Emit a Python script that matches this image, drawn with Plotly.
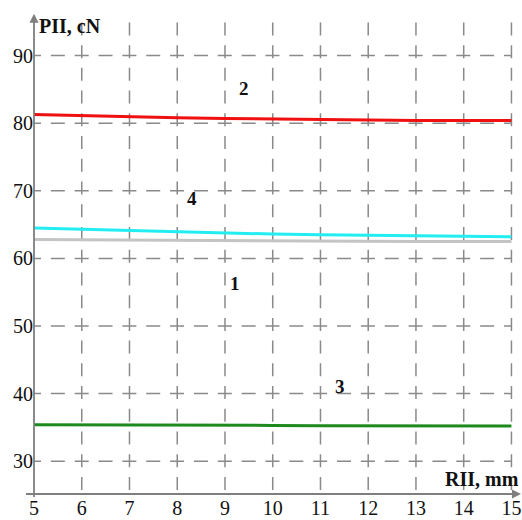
import plotly.graph_objects as go

x_vals = [5, 6, 7, 8, 9, 10, 11, 12, 13, 14, 15]
curve1 = [62.8, 62.75, 62.7, 62.65, 62.6, 62.6, 62.55, 62.55, 62.5, 62.5, 62.5]   # gray
curve2 = [81.3, 81.1, 80.95, 80.8, 80.7, 80.6, 80.5, 80.45, 80.4, 80.4, 80.4]     # red
curve3 = [35.4, 35.4, 35.4, 35.35, 35.3, 35.3, 35.25, 35.25, 35.2, 35.2, 35.2]    # green
curve4 = [64.5, 64.3, 64.1, 63.9, 63.8, 63.6, 63.5, 63.4, 63.3, 63.3, 63.2]       # cyan

x_ticks = [5, 6, 7, 8, 9, 10, 11, 12, 13, 14, 15]
y_ticks = [30, 40, 50, 60, 70, 80, 90]

label_text = ["1", "2", "3", "4"]
label_x = [9.2, 9.4, 11.4, 8.3]
label_y = [56.3, 85.1, 41.0, 68.8]

FONT = "Liberation Serif"
GRID_COLOR = "#8a8a8a"

fig = go.Figure()

# dashed grid; dash pattern phased so dashes cross at the grid intersections
for xv in x_ticks[1:]:
    fig.add_shape(type="line", xref="x", yref="y", x0=xv, x1=xv, y0=22.38, y1=95.0,
                  line=dict(color=GRID_COLOR, width=1.5, dash="13px,9.73px"),
                  layer="below")
for yv in y_ticks:
    fig.add_shape(type="line", xref="x", yref="y", x0=4.853, x1=x_ticks[-1],
                  y0=yv, y1=yv,
                  line=dict(color=GRID_COLOR, width=1.5, dash="14px,9.85px"),
                  layer="below")

series = [
    (curve1, "#c4c4c4"),
    (curve4, "#22eef2"),
    (curve2, "#f01010"),
    (curve3, "#1e8a1e"),
]
for ys, col in series:
    fig.add_trace(go.Scatter(x=x_vals, y=ys, mode="lines",
                             line=dict(color=col, width=3), showlegend=False,
                             hoverinfo="skip"))

for t, lx, ly in zip(label_text, label_x, label_y):
    fig.add_annotation(x=lx, y=ly, text="<b>%s</b>" % t, showarrow=False,
                       font=dict(family=FONT, size=19, color="#111"))

# axes with arrows
fig.add_annotation(x=15.2, y=25.15, ax=4.8, ay=25.15, xref="x", yref="y",
                   axref="x", ayref="y", text="", showarrow=True,
                   arrowhead=2, arrowsize=1, arrowwidth=1.8, arrowcolor="#7f7f7f")
fig.add_annotation(x=5, y=96.2, ax=5, ay=24.5, xref="x", yref="y",
                   axref="x", ayref="y", text="", showarrow=True,
                   arrowhead=2, arrowsize=1, arrowwidth=1.8, arrowcolor="#7f7f7f")

fig.add_annotation(x=0.006, y=1.0, xref="paper", yref="paper", text="<b>PII, cN</b>",
                   showarrow=False, xanchor="left", yanchor="top",
                   font=dict(family=FONT, size=20, color="#111"))
fig.add_annotation(x=1.0, y=0.004, xref="paper", yref="paper", text="<b>RII, mm</b>",
                   showarrow=False, xanchor="right", yanchor="bottom",
                   font=dict(family=FONT, size=20, color="#111"))

fig.update_xaxes(range=[5, 15.2], tickvals=x_ticks, ticks="", showline=False,
                 zeroline=False, showgrid=False,
                 tickfont=dict(family=FONT, size=20, color="#111"))
fig.update_yaxes(range=[25.15, 96.3], tickvals=y_ticks, ticks="", showline=False,
                 zeroline=False, showgrid=False,
                 tickfont=dict(family=FONT, size=20, color="#111"))

fig.update_layout(width=522, height=520,
                  margin=dict(l=34, r=1, t=13, b=24),
                  plot_bgcolor="white", paper_bgcolor="white")

fig.write_html("out.html", config={"displayModeBar": False},
               post_script="document.body.style.margin='0';document.body.style.overflow='hidden';")
